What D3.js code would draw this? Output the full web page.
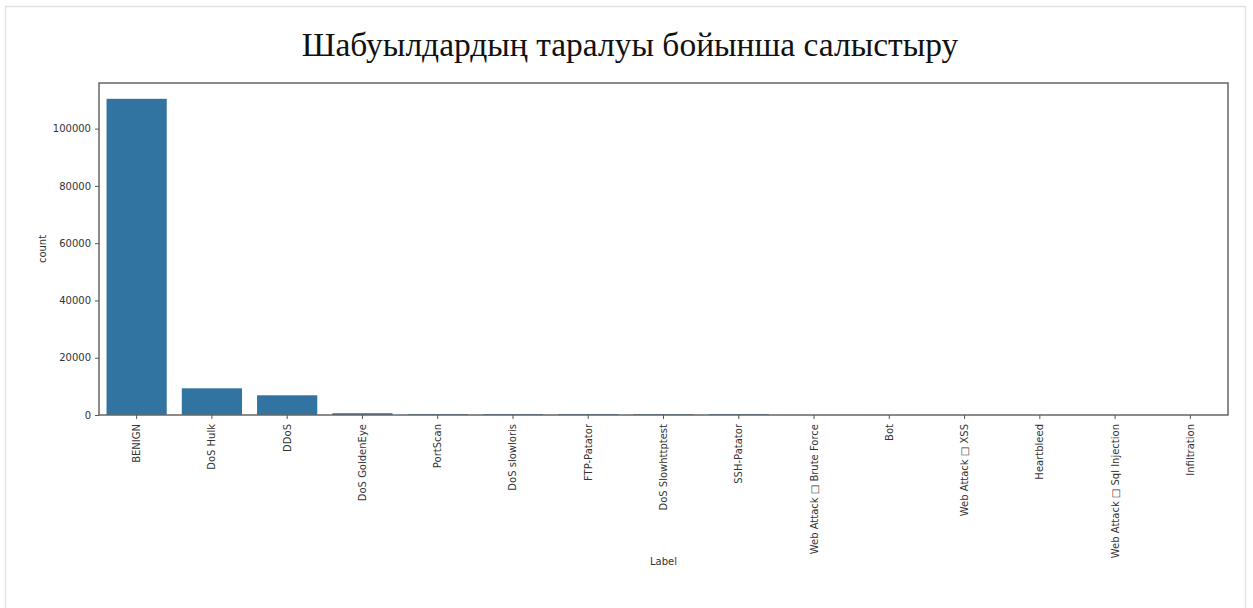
<!DOCTYPE html>
<html>
<head>
<meta charset="utf-8">
<script src="https://cdn.jsdelivr.net/npm/d3@7"></script>
<style>
  html, body { margin: 0; padding: 0; background: #fff; }
  svg { display: block; }
</style>
</head>
<body>
<svg id="chart" width="1253" height="608"></svg>
<script>
// Traffic class counts
const categories = [
  "BENIGN", "DoS Hulk", "DDoS", "DoS GoldenEye", "PortScan", "DoS slowloris",
  "FTP-Patator", "DoS Slowhttptest", "SSH-Patator", "Web Attack \u25A1 Brute Force",
  "Bot", "Web Attack \u25A1 XSS", "Heartbleed", "Web Attack \u25A1 Sql Injection", "Infiltration"
];
const counts = [110400, 9320, 6880, 620, 320, 300, 330, 290, 320, 15, 10, 6, 1, 1, 1];
const yTicks = [0, 20000, 40000, 60000, 80000, 100000];

const svg = d3.select("#chart");
const m = { left: 99, right: 1228, top: 83, bottom: 415 };

// faint frame around the figure
svg.append("rect")
  .attr("x", 5.5).attr("y", 6.5).attr("width", 1240).attr("height", 610)
  .attr("fill", "none").attr("stroke", "#e2e2e2").attr("stroke-width", 1.5);

const x = d3.scaleBand().domain(categories).range([m.left, m.right]).paddingInner(0.2).paddingOuter(0.1);
const y = d3.scaleLinear().domain([0, d3.max(counts) * 1.05]).range([m.bottom, m.top]);

// bars
svg.append("g").selectAll("rect")
  .data(categories.map((c, i) => ({ c, v: counts[i] })))
  .join("rect")
  .attr("x", d => x(d.c))
  .attr("width", x.bandwidth())
  .attr("y", d => y(d.v))
  .attr("height", d => Math.max(0, y(0) - y(d.v)))
  .attr("fill", "#3274a1");

// plot frame
svg.append("rect")
  .attr("x", m.left).attr("y", m.top)
  .attr("width", m.right - m.left).attr("height", m.bottom - m.top)
  .attr("fill", "none").attr("stroke", "#666").attr("stroke-width", 1.5);

const tickFont = "DejaVu Sans, sans-serif";

// y axis
const yAxis = svg.append("g")
  .attr("transform", `translate(${m.left},0)`)
  .call(d3.axisLeft(y).tickValues(yTicks).tickFormat(d3.format("d")).tickSize(4).tickPadding(4));
yAxis.select(".domain").remove();
yAxis.selectAll("line").attr("stroke", "#555");
yAxis.selectAll("text").attr("font-family", tickFont).attr("font-size", 10).attr("fill", "#333");

// x axis
const xAxis = svg.append("g")
  .attr("transform", `translate(0,${m.bottom})`)
  .call(d3.axisBottom(x).tickSize(4).tickPadding(0));
xAxis.select(".domain").remove();
xAxis.selectAll("line").attr("stroke", "#555");
xAxis.selectAll("text")
  .attr("font-family", tickFont).attr("font-size", 10).attr("fill", "#333")
  .attr("transform", "rotate(-90)")
  .attr("text-anchor", "end")
  .attr("x", -9).attr("y", 0).attr("dy", "0.35em");

// axis titles
svg.append("text")
  .attr("transform", `translate(46,${(m.top + m.bottom) / 2}) rotate(-90)`)
  .attr("text-anchor", "middle")
  .attr("font-family", tickFont).attr("font-size", 10).attr("fill", "#333")
  .text("count");

svg.append("text")
  .attr("x", (m.left + m.right) / 2).attr("y", 565)
  .attr("text-anchor", "middle")
  .attr("font-family", tickFont).attr("font-size", 10).attr("fill", "#333")
  .text("Label");

// title
svg.append("text")
  .attr("x", 630).attr("y", 56)
  .attr("text-anchor", "middle")
  .attr("font-family", "Liberation Serif, Times New Roman, serif")
  .attr("font-size", 33.5).attr("fill", "#111")
  .text("Шабуылдардың таралуы бойынша салыстыру");
</script>
</body>
</html>
